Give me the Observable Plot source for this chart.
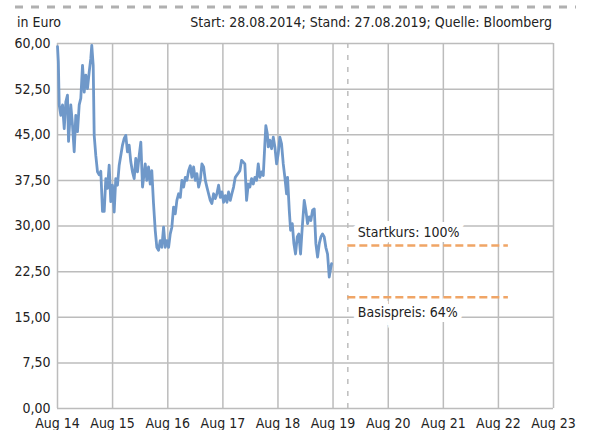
<!DOCTYPE html>
<html>
<head>
<meta charset="utf-8">
<script src="https://cdn.jsdelivr.net/npm/d3@7"></script>
<script src="https://cdn.jsdelivr.net/npm/@observablehq/plot@0.6"></script>
<style>
  html, body { margin: 0; padding: 0; background: #fff; }
  #chart svg { display: block; }
</style>
</head>
<body>
<div id="chart"></div>
<script>
// Kursverlauf (Dezimaljahr, Kurs in Euro)
const jahr = [
  2014.655, 2014.670, 2014.686, 2014.715, 2014.746, 2014.777, 2014.806, 2014.836, 2014.855, 2014.896,
  2014.927, 2014.958, 2014.987, 2015.018, 2015.049, 2015.078, 2015.109, 2015.140, 2015.169, 2015.199,
  2015.230, 2015.259, 2015.277, 2015.303, 2015.321, 2015.350, 2015.381, 2015.412, 2015.441, 2015.472,
  2015.503, 2015.532, 2015.562, 2015.593, 2015.622, 2015.653, 2015.684, 2015.713, 2015.744, 2015.775,
  2015.835, 2015.866, 2015.895, 2015.925, 2015.956, 2015.985, 2016.016, 2016.047, 2016.076, 2016.107,
  2016.138, 2016.167, 2016.198, 2016.247, 2016.276, 2016.307, 2016.337, 2016.366, 2016.397, 2016.428,
  2016.457, 2016.488, 2016.519, 2016.548, 2016.579, 2016.610, 2016.639, 2016.670, 2016.700, 2016.729,
  2016.760, 2016.791, 2016.820, 2016.851, 2016.882, 2016.911, 2016.942, 2016.973, 2017.002, 2017.032,
  2017.063, 2017.092, 2017.123, 2017.154, 2017.183, 2017.214, 2017.245, 2017.274, 2017.305, 2017.336,
  2017.365, 2017.395, 2017.426, 2017.455, 2017.486, 2017.517, 2017.546, 2017.577, 2017.608, 2017.637,
  2017.668, 2017.699, 2017.728, 2017.758, 2017.789, 2017.818, 2017.849, 2017.880, 2017.927, 2017.964,
  2017.994, 2018.025, 2018.054, 2018.085, 2018.116, 2018.145, 2018.176, 2018.207, 2018.236, 2018.267,
  2018.297, 2018.327, 2018.357, 2018.388, 2018.417, 2018.435, 2018.461, 2018.479, 2018.508, 2018.539,
  2018.570, 2018.599, 2018.630, 2018.660, 2018.689, 2018.720, 2018.751, 2018.780, 2018.811, 2018.829,
  2018.860, 2018.884, 2018.915, 2018.944, 2018.974, 2019.005, 2019.034, 2019.065, 2019.096, 2019.132,
  2019.161, 2019.192, 2019.223, 2019.252, 2019.283, 2019.314, 2019.343, 2019.374, 2019.405, 2019.434,
  2019.464, 2019.495, 2019.524, 2019.555, 2019.586, 2019.615, 2019.628
];
const kurs = [
  59.5, 57.0, 49.9, 48.2, 49.9, 46.0, 50.4, 51.5, 43.9, 49.9,
  46.6, 42.2, 48.2, 45.5, 49.9, 51.0, 56.4, 52.0, 54.8, 52.6,
  55.3, 57.5, 59.7, 56.4, 44.9, 41.6, 38.9, 38.4, 39.0, 32.4,
  32.4, 37.8, 36.2, 40.0, 34.0, 36.7, 32.3, 37.8, 36.7, 40.0,
  43.3, 44.4, 44.9, 42.2, 43.3, 40.6, 38.9, 37.8, 41.1, 38.9,
  41.6, 43.8, 36.4, 40.2, 37.5, 39.7, 36.9, 39.1, 33.7, 29.3,
  26.5, 26.0, 27.6, 26.5, 29.8, 26.5, 27.6, 26.5, 28.7, 29.8,
  33.1, 32.0, 34.2, 35.3, 34.7, 37.5, 36.4, 38.0, 37.5, 39.1,
  39.9, 38.0, 39.7, 37.5, 38.6, 36.4, 37.5, 40.2, 39.7, 37.5,
  36.4, 35.3, 34.2, 33.7, 35.3, 34.5, 35.3, 36.7, 34.7, 35.6,
  33.9, 35.0, 33.9, 35.6, 34.2, 35.3, 36.4, 38.0, 38.6, 39.1,
  40.8, 40.5, 40.2, 34.2, 36.9, 36.4, 37.8, 36.9, 38.0, 37.5,
  40.2, 38.0, 38.9, 38.3, 43.5, 46.5, 45.2, 43.0, 44.1, 42.7,
  44.6, 43.0, 40.2, 41.9, 44.6, 43.5, 40.2, 38.0, 35.3, 38.0,
  32.6, 29.3, 30.4, 27.1, 25.4, 28.2, 28.7, 25.4, 29.8, 34.2,
  32.6, 30.4, 31.5, 30.9, 32.6, 32.8, 27.1, 24.9, 27.1, 28.2,
  28.7, 28.2, 26.5, 25.4, 21.6, 23.2, 23.8
];

// Schwellen
const schwellenNamen = ["Startkurs: 100%", "Basispreis: 64%"];
const schwellenWerte = [26.8, 18.3];
const schwellenStart = "2019-12-04";
const schwellenEnde = "2022-11-02";

// Achsen
const tickJahre = [2014, 2015, 2016, 2017, 2018, 2019, 2020, 2021, 2022, 2023];
const yTicks = [0, 7.5, 15, 22.5, 30, 37.5, 45, 52.5, 60];

const einheit = "in Euro";
const quelle = "Start: 28.08.2014; Stand: 27.08.2019; Quelle: Bloomberg";

function toDate(t) {
  const y = Math.floor(t);
  const a = Date.UTC(y, 0, 1), b = Date.UTC(y + 1, 0, 1);
  return new Date(a + (t - y) * (b - a));
}

const serie = jahr.map((t, i) => ({date: toDate(t), value: kurs[i]}));
const xTicks = tickJahre.map(y => new Date(Date.UTC(y, 7, 28)));
const schwellen = schwellenNamen.map((n, i) => ({
  name: n, value: schwellenWerte[i],
  x1: new Date(schwellenStart), x2: new Date(schwellenEnde)
}));

const FONT = "'Liberation Sans Narrow', 'Arial Narrow', 'DejaVu Sans Condensed', sans-serif";
const FS = 14;
const gridColor = "#bcbcbc";

const labelOpts = {
  x: "x1", y: "value", text: "name",
  dx: 10, textAnchor: "start",
  fill: "#222", stroke: "white", strokeWidth: 10, strokeLinejoin: "miter",
  fontSize: FS
};

const plot = Plot.plot({
  width: 592,
  height: 430,
  marginLeft: 57,
  marginRight: 39,
  marginTop: 43,
  marginBottom: 22,
  style: {fontFamily: FONT, fontSize: FS + "px", color: "#222", background: "#fff"},
  x: {
    type: "utc",
    domain: [xTicks[0], xTicks[xTicks.length - 1]],
    ticks: xTicks,
    tickFormat: d => "Aug " + String(d.getUTCFullYear()).slice(2),
    tickSize: 0,
    tickPadding: 10,
    label: null
  },
  y: {
    domain: [0, 60],
    ticks: yTicks,
    tickFormat: d => d.toFixed(2).replace(".", ","),
    tickSize: 0,
    tickPadding: 7,
    label: null
  },
  marks: [
    Plot.gridX(xTicks, {stroke: gridColor, strokeOpacity: 1, strokeWidth: 1.5}),
    Plot.gridY(yTicks, {stroke: gridColor, strokeOpacity: 1, strokeWidth: 1.5}),
    Plot.ruleX([new Date(schwellenStart)], {stroke: "#bdbdbd", strokeWidth: 1.5, strokeDasharray: "5,7"}),
    Plot.text(schwellen.slice(0, 1), {...labelOpts, dy: -13}),
    Plot.text(schwellen.slice(1, 2), {...labelOpts, dy: 15}),
    Plot.ruleY(schwellen, {y: "value", x1: "x1", x2: "x2", stroke: "#f0a566", strokeWidth: 2.5, strokeDasharray: "8,4"}),
    Plot.line(serie, {x: "date", y: "value", stroke: "#6f98c9", strokeWidth: 2.8, strokeLinejoin: "round", curve: "linear"})
  ]
});

document.getElementById("chart").appendChild(plot);

// header
const svg = d3.select(plot);
svg.append("line")
  .attr("x1", 15).attr("x2", 576).attr("y1", 7).attr("y2", 7)
  .attr("stroke", "#b0b0b0").attr("stroke-width", 3).attr("stroke-dasharray", "8,8");
svg.append("text").attr("x", 17).attr("y", 27).attr("text-anchor", "start")
  .attr("font-family", FONT).attr("font-size", FS).attr("fill", "#222").text(einheit);
svg.append("text").attr("x", 552).attr("y", 27).attr("text-anchor", "end")
  .attr("font-family", FONT).attr("font-size", FS).attr("fill", "#222").text(quelle);
</script>
</body>
</html>
